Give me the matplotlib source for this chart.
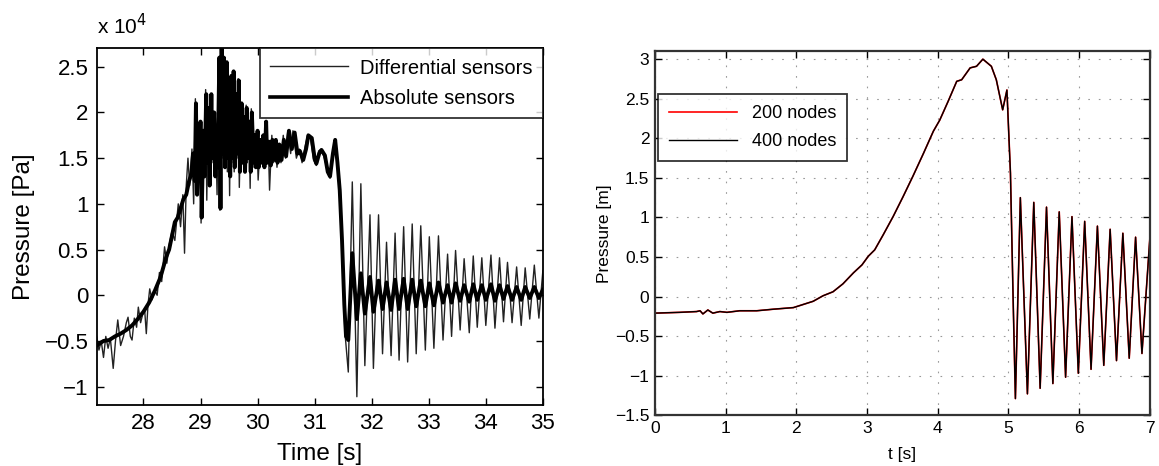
import matplotlib
matplotlib.use("Agg")
import matplotlib.pyplot as plt
from matplotlib.ticker import FuncFormatter

plt.rcParams['font.family'] = ['Liberation Sans', 'DejaVu Sans']

## Left panel: measured pressure, values in units of 1e4 Pa
diff_t = [27.18, 27.22, 27.26, 27.30, 27.34, 27.38, 27.42, 27.47, 27.51, 27.55,
          27.60, 27.65, 27.70, 27.73, 27.77, 27.80, 27.84, 27.88, 27.91, 27.95,
          27.99, 28.02, 28.05, 28.08, 28.11, 28.15, 28.20, 28.24, 28.28, 28.32,
          28.37, 28.41, 28.45, 28.50, 28.55, 28.61, 28.65, 28.69, 28.72, 28.75,
          28.78, 28.81, 28.85,
          28.88, 28.91, 28.93, 28.95, 28.97, 28.99, 29.01, 29.04, 29.06, 29.09,
          29.11, 29.13, 29.15, 29.18, 29.20, 29.23, 29.25, 29.27, 29.29, 29.32,
          29.34, 29.36, 29.38, 29.40, 29.42, 29.45, 29.47, 29.49, 29.51, 29.53,
          29.55, 29.57, 29.59, 29.62, 29.64, 29.66, 29.68, 29.71, 29.73, 29.75,
          29.77, 29.80, 29.82, 29.85, 29.87, 29.89, 29.92, 29.94, 29.96, 29.99,
          30.01, 30.04, 30.06, 30.09, 30.11, 30.14, 30.16, 30.19, 30.21, 30.25,
          30.28, 30.31, 30.34, 30.37, 30.41, 30.45, 30.49, 30.53, 30.58, 30.62,
          30.68, 30.73, 30.78, 30.83, 30.88, 30.93, 30.98, 31.03, 31.07, 31.12,
          31.17, 31.22, 31.27, 31.32, 31.36, 31.41, 31.45, 31.49, 31.53,
          31.59, 31.66, 31.74, 31.81, 31.88, 31.97, 32.03, 32.12, 32.19, 32.26,
          32.34, 32.41, 32.48, 32.56, 32.63, 32.71, 32.78, 32.86, 32.94, 33.01,
          33.09, 33.17, 33.25, 33.33, 33.40, 33.47, 33.55, 33.62, 33.71, 33.78,
          33.85, 33.93, 34.00, 34.09, 34.16, 34.24, 34.31, 34.38, 34.46, 34.54,
          34.62, 34.69, 34.77, 34.85, 34.93, 35.00]
diff_p = [-0.45, -0.60, -0.50, -0.68, -0.45, -0.58, -0.47, -0.80, -0.50, -0.27,
          -0.55, -0.45, -0.30, -0.24, -0.45, -0.49, -0.25, -0.35, -0.13, -0.30,
          -0.20, -0.15, -0.42, -0.10, 0.07, -0.05, 0.05, 0.00, 0.25, 0.15,
          0.53, 0.35, 0.55, 0.70, 0.60, 1.00, 0.75, 1.10, 0.46, 1.20,
          1.50, 1.20, 1.60,
          1.00, 2.15, 1.20, 1.80, 1.35, 1.70, 0.79, 1.75, 1.35, 2.25,
          1.04, 1.90, 1.40, 2.20, 1.45, 1.90, 1.30, 1.70, 1.10, 2.40,
          0.93, 2.55, 1.50, 2.60, 1.40, 2.50, 1.35, 2.20, 1.09, 2.35,
          1.45, 2.43, 1.35, 2.10, 1.50, 2.37, 1.18, 2.00, 1.45, 1.90,
          1.35, 2.08, 1.45, 1.85, 1.17, 2.04, 1.40, 1.75, 1.40, 1.70,
          1.26, 1.60, 1.45, 1.70, 1.40, 1.91, 1.45, 1.60, 1.15, 1.75,
          1.45, 1.70, 1.40, 1.60, 1.45, 1.75, 1.50, 1.80, 1.55, 1.80,
          1.50, 1.60, 1.45, 1.62, 1.76, 1.70, 1.48, 1.42, 1.58, 1.60,
          1.50, 1.38, 1.28, 1.52, 1.70, 1.45, 1.15, 0.40, -0.40,
          -0.84, 1.24, -1.11, 1.22, -0.77, 0.88, -0.80, 0.88, -0.64, 0.58,
          -0.66, 0.68, -0.71, 0.75, -0.73, 0.78, -0.64, 0.76, -0.60, 0.64,
          -0.58, 0.65, -0.49, 0.45, -0.45, 0.49, -0.38, 0.40, -0.41, 0.43,
          -0.35, 0.41, -0.33, 0.44, -0.36, 0.41, -0.29, 0.36, -0.30, 0.31,
          -0.33, 0.30, -0.26, 0.33, -0.25, 0.27]

abs_t = [27.18, 27.30, 27.40, 27.50, 27.60, 27.70, 27.80, 27.90, 28.00, 28.10,
         28.20, 28.30, 28.40, 28.45, 28.50, 28.55, 28.60, 28.65, 28.70, 28.75,
         28.80, 28.84,
         28.87, 28.90, 28.92, 28.94, 28.96, 28.98, 29.00, 29.02, 29.05, 29.07,
         29.10, 29.12, 29.14, 29.16, 29.19, 29.21, 29.24, 29.26, 29.28, 29.30,
         29.33, 29.35, 29.37, 29.39, 29.41, 29.43, 29.46, 29.48, 29.50, 29.52,
         29.54, 29.56, 29.58, 29.60, 29.63, 29.65, 29.67, 29.69, 29.72, 29.74,
         29.76, 29.78, 29.81, 29.83, 29.86, 29.88, 29.90, 29.93, 29.95, 29.97,
         30.00, 30.02, 30.05, 30.07, 30.10, 30.12, 30.15, 30.17, 30.20, 30.23,
         30.26, 30.29, 30.32, 30.35, 30.38, 30.42, 30.46, 30.50, 30.55, 30.60,
         30.65, 30.70, 30.74, 30.80, 30.85, 30.89, 30.95, 31.00, 31.03, 31.08,
         31.12, 31.18, 31.23, 31.27, 31.32, 31.36, 31.40, 31.44, 31.48, 31.52,
         31.55, 31.59, 31.66, 31.74, 31.81, 31.88, 31.97, 32.03, 32.12, 32.19,
         32.26, 32.34, 32.41, 32.48, 32.56, 32.63, 32.71, 32.78, 32.86, 32.94,
         33.01, 33.09, 33.17, 33.25, 33.33, 33.40, 33.47, 33.55, 33.62, 33.71,
         33.78, 33.85, 33.93, 34.00, 34.09, 34.16, 34.24, 34.31, 34.38, 34.46,
         34.54, 34.62, 34.69, 34.77, 34.85, 34.93, 35.00]
abs_p = [-0.55, -0.50, -0.49, -0.45, -0.42, -0.38, -0.33, -0.26, -0.18, -0.08,
         0.05, 0.20, 0.42, 0.50, 0.65, 0.80, 0.85, 0.95, 1.05, 1.10,
         1.25, 1.33,
         1.55, 1.25, 2.10, 1.10, 1.70, 1.40, 1.90, 0.85, 1.80, 1.30,
         2.20, 1.45, 2.05, 1.20, 2.20, 1.50, 2.00, 1.30, 1.80, 1.40,
         2.60, 0.95, 2.70, 1.55, 2.60, 1.40, 2.55, 1.50, 2.30, 1.30,
         2.40, 1.50, 2.45, 1.40, 2.20, 1.55, 2.35, 1.35, 2.10, 1.45,
         1.95, 1.35, 2.05, 1.50, 1.90, 1.35, 2.00, 1.45, 1.75, 1.40,
         1.80, 1.40, 1.70, 1.45, 1.75, 1.40, 1.90, 1.45, 1.68, 1.42,
         1.70, 1.48, 1.70, 1.45, 1.65, 1.48, 1.70, 1.52, 1.80, 1.60,
         1.78, 1.55, 1.58, 1.48, 1.60, 1.75, 1.72, 1.50, 1.44, 1.55,
         1.59, 1.53, 1.35, 1.30, 1.55, 1.70, 1.45, 1.15, 0.60, -0.10,
         -0.45, -0.49, 0.46, -0.26, 0.24, -0.20, 0.20, -0.18, 0.16, -0.15,
         0.14, -0.16, 0.17, -0.15, 0.18, -0.15, 0.17, -0.12, 0.16, -0.12,
         0.13, -0.11, 0.14, -0.08, 0.11, -0.08, 0.13, -0.06, 0.11, -0.07,
         0.12, -0.05, 0.11, -0.05, 0.12, -0.06, 0.11, -0.04, 0.10, -0.05,
         0.09, -0.05, 0.09, -0.03, 0.09, -0.03, 0.06]

## Right panel: simulated pressure head [m]
sim_t = [0.00, 0.35, 0.59, 0.64, 0.68, 0.75, 0.82, 0.92, 1.02, 1.20,
         1.44, 1.68, 1.96, 2.10, 2.24, 2.38, 2.52, 2.66, 2.81, 2.93,
         3.02, 3.11, 3.23, 3.37, 3.51, 3.65, 3.80, 3.94, 4.03, 4.15,
         4.27, 4.34, 4.46, 4.55, 4.64, 4.76, 4.83, 4.92, 4.98, 5.03,
         5.07, 5.10, 5.17, 5.27, 5.36, 5.45, 5.54, 5.63, 5.72, 5.81,
         5.90, 5.99, 6.08, 6.17, 6.26, 6.35, 6.44, 6.53, 6.62, 6.71,
         6.80, 6.89, 7.00]
p_200 = [-0.21, -0.20, -0.19, -0.18, -0.22, -0.17, -0.21, -0.19, -0.20, -0.18,
         -0.18, -0.16, -0.14, -0.10, -0.06, 0.01, 0.06, 0.16, 0.30, 0.40,
         0.51, 0.59, 0.78, 1.01, 1.26, 1.52, 1.81, 2.09, 2.23, 2.47,
         2.72, 2.74, 2.89, 2.91, 3.00, 2.91, 2.74, 2.36, 2.61, 1.56,
         -0.12, -1.29, 1.25, -1.23, 1.19, -1.16, 1.13, -1.10, 1.07, -1.02,
         1.01, -0.97, 0.95, -0.92, 0.89, -0.87, 0.85, -0.81, 0.80, -0.78,
         0.75, -0.72, 0.71]
p_400 = list(p_200)  # the two meshes overlap at plot resolution


def matlab_fmt(v, pos):
    return ("%g" % round(v, 3)).replace("-", "\u2212")


def matlab_axes(ax, lw):
    ax.tick_params(direction="in", top=True, right=True, length=5,
                   width=1.0, colors="black")
    for s in ax.spines.values():
        s.set_linewidth(lw)
    ax.xaxis.set_major_formatter(FuncFormatter(matlab_fmt))
    ax.yaxis.set_major_formatter(FuncFormatter(matlab_fmt))


fig = plt.figure(figsize=(11.59, 4.66), dpi=100)

# left panel
ax1 = fig.add_axes([0.0834, 0.131, 0.385, 0.765])
ax1.plot(diff_t, diff_p, color="#222222", lw=1.0, label="Differential sensors")
ax1.plot(abs_t, abs_p, color="black", lw=2.8, label="Absolute sensors")
ax1.set_xlim(27.18, 35)
ax1.set_ylim(-1.2, 2.7)
ax1.set_xticks(range(28, 36))
ax1.set_yticks([-1, -0.5, 0, 0.5, 1, 1.5, 2, 2.5])
matlab_axes(ax1, 1.3)
ax1.tick_params(labelsize=16, pad=6)
ax1.set_xlabel("Time [s]", fontsize=17.5, labelpad=6)
ax1.set_ylabel("Pressure [Pa]", fontsize=17.5, labelpad=7)
ax1.text(0.0, 1.03, "x 10$^4$", transform=ax1.transAxes, fontsize=15,
         ha="left", va="bottom")
leg1 = ax1.legend(loc="upper right", fontsize=14.5, frameon=True, fancybox=False,
                  edgecolor="black", borderaxespad=0, handlelength=3.9,
                  labelspacing=0.55, borderpad=0.5, handletextpad=0.6)
leg1.get_frame().set_linewidth(1.3)
leg1.get_lines()[1].set_linewidth(2.6)

# right panel
ax2 = fig.add_axes([0.565, 0.109, 0.427, 0.781])
ax2.plot(sim_t, p_200, color="red", lw=1.2, label="200 nodes")
ax2.plot(sim_t, p_400, color="black", lw=1.0, label="400 nodes")
ax2.set_xlim(0, 7)
ax2.set_ylim(-1.5, 3.1)
ax2.set_xticks(range(0, 8))
ax2.set_yticks([-1.5, -1, -0.5, 0, 0.5, 1, 1.5, 2, 2.5, 3])
ax2.grid(True, color="#999999", linestyle=(0, (1.5, 8)), lw=0.8)
matlab_axes(ax2, 1.6)
for s in ax2.spines.values():
    s.set_color("#333333")
ax2.tick_params(labelsize=12.5, pad=4)
ax2.set_xlabel("t [s]", fontsize=12.5, labelpad=8)
ax2.set_ylabel("Pressure [m]", fontsize=12.5, labelpad=2)
leg2 = ax2.legend(loc="upper left", bbox_to_anchor=(0.006, 0.882), fontsize=13,
                  frameon=True, fancybox=False, edgecolor="black",
                  borderaxespad=0, handlelength=3.8, labelspacing=0.6,
                  borderpad=0.6, handletextpad=0.8)
leg2.get_frame().set_linewidth(1.3)

fig.savefig("out.png", dpi=100)
